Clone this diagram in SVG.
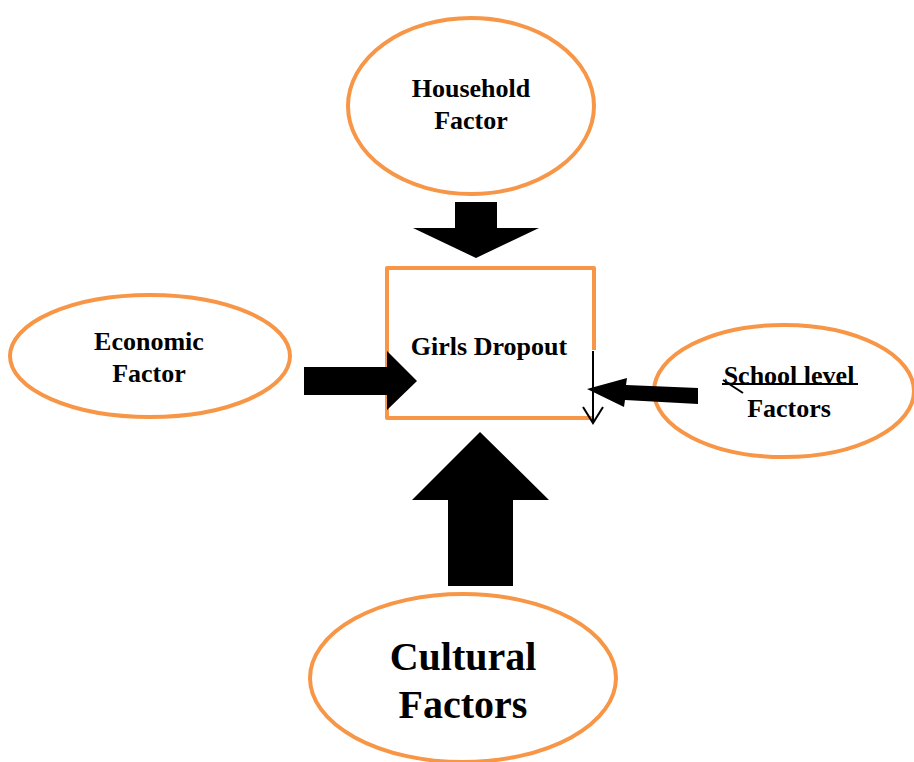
<svg xmlns="http://www.w3.org/2000/svg" width="914" height="762" viewBox="0 0 914 762">
<style>
.node{fill:#fff;stroke:#F79646;stroke-width:4}
.t{font-family:"Liberation Serif","Times New Roman",serif;font-weight:bold;font-size:26px;fill:#000;text-anchor:middle}
.big{font-size:40px}
.arrow{fill:#000;stroke:none}
</style>
<rect width="914" height="762" fill="#fff"/>
<g id="household">
<ellipse class="node" cx="471" cy="106" rx="123" ry="88"/>
<text class="t" x="471" y="97">Household</text>
<text class="t" x="471" y="129">Factor</text>
</g>
<g id="economic">
<ellipse class="node" cx="150" cy="356" rx="140" ry="61"/>
<text class="t" x="149" y="350">Economic</text>
<text class="t" x="149" y="382">Factor</text>
</g>
<g id="school">
<ellipse class="node" cx="784" cy="391" rx="130" ry="66"/>
<text class="t" x="789" y="384">School level</text>
<text class="t" x="789" y="417">Factors</text>
<line x1="722" y1="384" x2="858" y2="384" stroke="#000" stroke-width="2"/>
<line x1="723" y1="380" x2="743" y2="393" stroke="#000" stroke-width="2"/>
</g>
<g id="cultural">
<ellipse class="node" cx="463" cy="678" rx="153" ry="84"/>
<text class="t big" x="463" y="670">Cultural</text>
<text class="t big" x="463" y="718">Factors</text>
</g>
<g id="dropout">
<polyline points="594,350 594,268 387,268 387,418 594,418" fill="#fff" stroke="#F79646" stroke-width="4" stroke-linejoin="round"/>
<text class="t" x="489" y="355">Girls Dropout</text>
</g>
<g id="connectors">
<polygon class="arrow" points="455,202 497,202 497,228 539,228 476,258 413,228 455,228"/>
<polygon class="arrow" points="304,367 387,367 387,351 417,381 387,410 387,395 304,395"/>
<polygon class="arrow" points="587,389 627,378 626,385 698,388 698,404 625,400 624,407"/>
<polygon class="arrow" points="448,586 513,586 513,500 549,500 480,432 412,500 448,500"/>
<line x1="593" y1="351" x2="593" y2="423" stroke="#000" stroke-width="2"/>
<polyline points="583,407 593,423 603,407" fill="none" stroke="#000" stroke-width="2"/>
</g>
</svg>
